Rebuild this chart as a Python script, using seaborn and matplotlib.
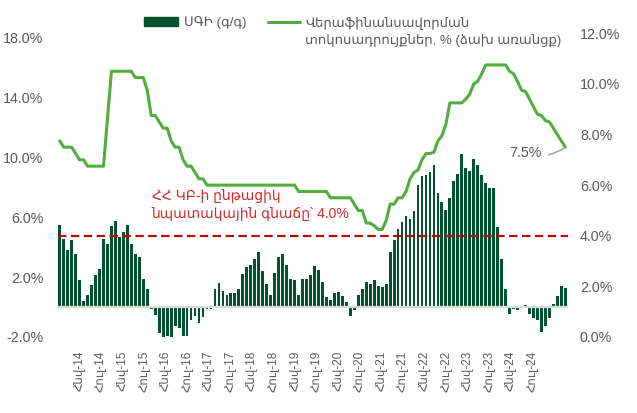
import numpy as np
import pandas as pd
import matplotlib
matplotlib.use("Agg")
import matplotlib.pyplot as plt
import seaborn as sns
from matplotlib.ticker import FuncFormatter
from matplotlib.lines import Line2D
from matplotlib.patches import Patch

# ---------------- data ----------------
cpi = [5.44, 4.56, 3.78, 4.44, 3.56, 1.78, 0.38, 0.78, 1.44, 2.11,
       2.51, 4.51, 4.18, 5.38, 5.71, 4.67, 5.00, 5.44, 4.18, 3.56,
       3.31, 1.84, 1.18, -0.13, -0.50, -1.70, -2.00, -1.90, -2.00, -1.25,
       -1.40, -1.90, -1.90, -0.85, -0.58, -1.07, -0.67, -0.13, -0.11, 1.18,
       1.58, 1.04, 0.78, 0.91, 0.91, 1.18, 2.18, 2.64, 2.78, 3.22,
       3.64, 2.38, 1.51, 0.78, 2.24, 3.31, 3.51, 2.78, 1.84, 1.78,
       0.78, 1.84, 1.84, 2.11, 2.71, 2.44, 1.64, 0.64, 0.44, 0.91,
       0.98, 0.71, 0.33, -0.58, -0.18, 0.78, 1.18, 1.67, 1.53, 1.78,
       1.38, 1.31, 1.51, 3.64, 4.50, 5.20, 5.70, 6.10, 5.90, 6.42,
       8.15, 8.75, 8.82, 9.02, 9.50, 7.63, 7.02, 6.50, 7.28, 8.42,
       8.88, 10.22, 9.30, 9.10, 9.90, 9.47, 8.82, 8.25, 7.95, 7.95,
       5.35, 3.22, 1.22, -0.49, -0.13, -0.20, 0.02, 0.11, -0.49, -0.71,
       -0.89, -1.67, -1.27, -0.76, 0.17, 0.71, 1.38, 1.24]

rate = [7.75, 7.50, 7.50, 7.50, 7.25, 7.00, 7.00, 6.75, 6.75, 6.75,
        6.75, 6.75, 8.60, 10.50, 10.50, 10.50, 10.50, 10.50, 10.50, 10.25,
        10.25, 10.25, 9.75, 8.75, 8.75, 8.50, 8.25, 8.25, 7.75, 7.50,
        7.50, 7.00, 6.75, 6.75, 6.50, 6.25, 6.25, 6.00, 6.00, 6.00,
        6.00, 6.00, 6.00, 6.00, 6.00, 6.00, 6.00, 6.00, 6.00, 6.00,
        6.00, 6.00, 6.00, 6.00, 6.00, 6.00, 6.00, 6.00, 6.00, 6.00,
        5.75, 5.75, 5.75, 5.75, 5.75, 5.75, 5.75, 5.75, 5.50, 5.50,
        5.50, 5.50, 5.50, 5.50, 5.25, 5.00, 5.00, 4.50, 4.50, 4.40,
        4.25, 4.25, 4.60, 5.25, 5.25, 5.50, 5.50, 5.75, 6.25, 6.50,
        6.60, 7.00, 7.25, 7.25, 7.30, 7.75, 7.95, 8.40, 9.25, 9.25,
        9.25, 9.25, 9.40, 9.60, 10.00, 10.10, 10.40, 10.75, 10.75, 10.75,
        10.75, 10.75, 10.75, 10.50, 10.40, 10.10, 9.75, 9.70, 9.40, 9.10,
        8.80, 8.75, 8.55, 8.50, 8.25, 8.00, 7.75, 7.50]

tick_labels = ["Հնվ-14", "Հուլ-14", "Հնվ-15", "Հուլ-15", "Հնվ-16", "Հուլ-16",
               "Հնվ-17", "Հուլ-17", "Հնվ-18", "Հուլ-18", "Հնվ-19", "Հուլ-19",
               "Հնվ-20", "Հուլ-20", "Հնվ-21", "Հուլ-21", "Հնվ-22", "Հուլ-22",
               "Հնվ-23", "Հուլ-23", "Հնվ-24", "Հուլ-24"]

cpi_label = "ՍԳԻ (գ/գ)"
rate_label_1 = "Վերաֆինանսավորման"
rate_label_2 = "տոկոսադրույքներ, % (ձախ առանցք)"
target_text = "ՀՀ ԿԲ-ի ընթացիկ\nնպատակային գնաճը՝ 4.0%"
target_value = 4.0
last_rate_label = "7.5%"
left_ticks = [-2, 2, 6, 10, 14, 18]
right_ticks = [0, 2, 4, 6, 8, 10, 12]

# ---------------- style ----------------
BAR = "#01532F"
LINE = "#52AE3C"
RED = "#C00000"
GREY = "#595959"

sns.set_style("white")
plt.rcParams["font.family"] = ["Liberation Sans", "DejaVu Sans"]

W, H = 637, 413
fig = plt.figure(figsize=(W / 100, H / 100), dpi=100)
ax = fig.add_axes([57.5 / W, 1 - 337 / H, (567.5 - 57.5) / W, (337 - 33.3) / H])
ax2 = ax.twinx()

df = pd.DataFrame({"idx": np.arange(len(cpi)), "cpi": cpi, "rate": rate})

sns.barplot(data=df, x="idx", y="cpi", ax=ax, color=BAR, width=0.7,
            saturation=1, native_scale=True, zorder=2, linewidth=0,
            edgecolor="none")
for p in ax.patches:
    p.set_antialiased(False)
ax.axhline(0, color="#D9D9D9", lw=1.6, zorder=3)

sns.lineplot(data=df, x="idx", y="rate", ax=ax2, color=LINE, linewidth=2.2,
             legend=False)
ax2.axhline(target_value, color=RED, lw=1.6, dashes=(3.8, 2.0), zorder=1)

ax.set_xlim(-0.55, len(cpi) - 0.45)
ax.set_ylim(-2, 18.25)
ax2.set_ylim(0, 12.0)

ax.set_yticks(left_ticks)
ax2.set_yticks(right_ticks)
fmt = FuncFormatter(lambda v, p: f"{v:.1f}%")
ax.yaxis.set_major_formatter(fmt)
ax2.yaxis.set_major_formatter(fmt)

tick_pos = np.linspace(4.74, 118.5, len(tick_labels))
ax.set_xticks(tick_pos)
ax.set_xticklabels(tick_labels, rotation=90, fontsize=8.5, color=GREY)

for a in (ax, ax2):
    for s in a.spines.values():
        s.set_visible(False)
    a.set_xlabel("")
    a.set_ylabel("")
ax.tick_params(axis="x", length=0, pad=10)
ax.tick_params(axis="y", length=0, pad=10, labelsize=10.3, labelcolor=GREY)
ax2.tick_params(axis="y", length=0, pad=9, labelsize=10.3, labelcolor=GREY)

# target annotation text
ax.text((151.7 - 57.5) / 510, (337 - 205) / 303.7, target_text,
        transform=ax.transAxes, ha="left", va="center", fontsize=10,
        color="#D42A2A", linespacing=1.25)

# last value label
ax2.annotate(last_rate_label, xy=(df["idx"].iloc[-1], rate[-1]),
             xytext=(-24, -6), textcoords="offset pixels", ha="right",
             va="center", fontsize=10.3, color=GREY,
             arrowprops=dict(arrowstyle="-", color="#A6A6A6", lw=1.2,
                             shrinkA=3, shrinkB=1,
                             connectionstyle="arc3,rad=0.25"))

# legends
fig.legend(handles=[Patch(color=BAR)], labels=[cpi_label], loc="center left",
           bbox_to_anchor=(144 / W, 1 - 22.5 / H), frameon=False,
           borderpad=0, borderaxespad=0, handlelength=2.6, handleheight=0.7,
           handletextpad=0.4, fontsize=9.5, labelcolor=GREY)
fig.legend(handles=[Line2D([], [], color=LINE, lw=2.2)], labels=[rate_label_1],
           loc="center left", bbox_to_anchor=(268 / W, 1 - 23 / H),
           frameon=False, borderpad=0, borderaxespad=0, handlelength=2.45,
           handletextpad=0.38, fontsize=9.5, labelcolor=GREY)
fig.text(305 / W, 1 - 40 / H, rate_label_2, ha="left", va="center",
         fontsize=9.5, color=GREY)

fig.savefig("out.png", dpi=100, facecolor="white")
